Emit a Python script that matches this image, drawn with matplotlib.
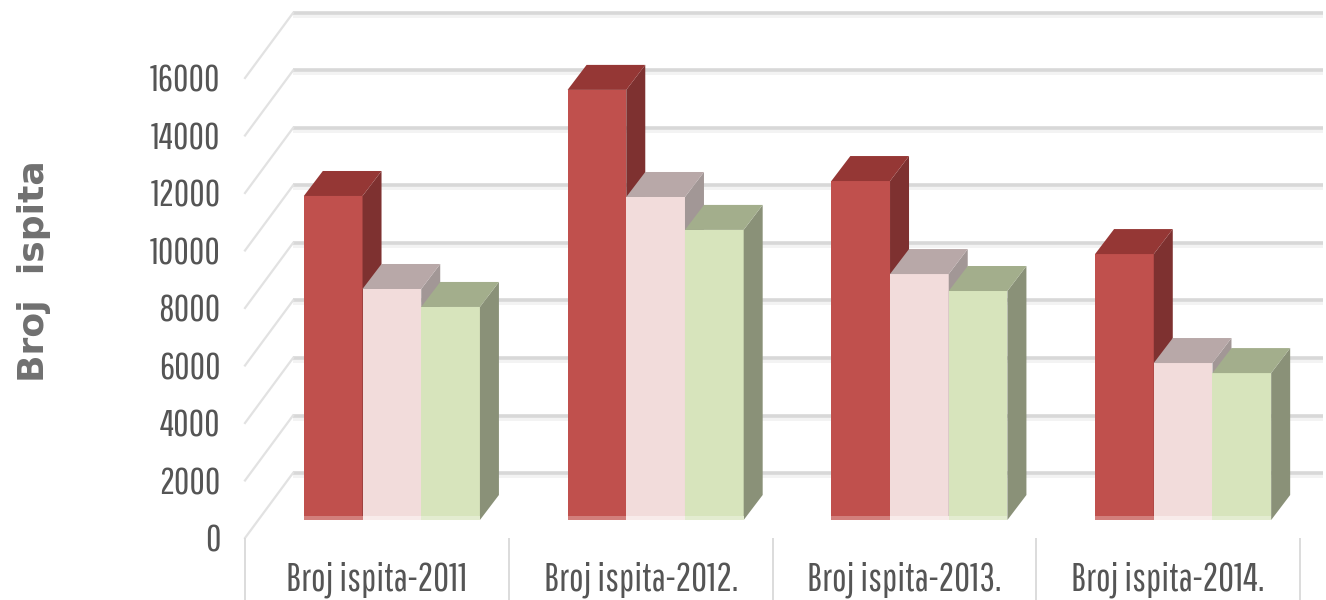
import numpy as np
import matplotlib
matplotlib.use('Agg')
import matplotlib.pyplot as plt
from matplotlib.patches import Polygon

categories = ['Broj ispita-2011', 'Broj ispita-2012.', 'Broj ispita-2013.', 'Broj ispita-2014.']
red_vals = [11270, 14960, 11790, 9250]
pink_vals = [8035, 11235, 8555, 5460]
green_vals = [7410, 10090, 7965, 5110]
yticks = [0, 2000, 4000, 6000, 8000, 10000, 12000, 14000, 16000]

# front, side, top colours per series
series = [
    (red_vals, '#C0504D', '#7E3130', '#953735', '#D27F7C'),
    (pink_vals, '#F2DCDB', '#A29796', '#B8A8A8', '#F8EBEA'),
    (green_vals, '#D7E4BC', '#8A9178', '#A3AE8C', '#E3ECD0'),
]

narrow = ['Pathway Gothic One', 'Liberation Sans', 'DejaVu Sans']

W, H = 1326, 600
fig = plt.figure(figsize=(W / 100, H / 100), dpi=100)
ax = fig.add_axes([245 / W, 1 - 538 / H, 1055 / W, 460 / H])
ax.set_xlim(-0.5, 3.5)
ax.set_ylim(0, 16000)
for s in ax.spines.values():
    s.set_visible(False)

# one px in data units
px_x = 4 / 1055
px_y = 16000 / 460

# back wall grid and the diagonals on the side wall
back_dx = 48 * px_x
back_dy = 65 * px_y
for v in yticks:
    gx = [-0.5 + back_dx, 3.5 + 23 * px_x]
    # soft band under each grid line, the source is a blurry upscale
    ax.plot(gx, [v + back_dy - 2 * px_y] * 2, color='#F3F3F3', lw=4.3, clip_on=False,
            zorder=1, solid_capstyle='butt')
    ax.plot(gx, [v + back_dy, v + back_dy], color='#D8D8D8', lw=2.6, clip_on=False,
            zorder=1, solid_capstyle='butt')
    ax.plot([-0.5, -0.5 + back_dx], [v, v + back_dy],
            color='#E2E2E2', lw=1.6, clip_on=False, zorder=1)

# category separators
ax.vlines(np.arange(-0.5, 4, 1), -62 * px_y, 0, color='#D9D9D9', lw=1.3, clip_on=False, zorder=1)

# bars
base = 18 * px_y
bw = 58.7 * px_x
dx = 19 * px_x
dy = 25 * px_y
shift = 15 * px_x
for i, (vals, front, side, top, light) in enumerate(series):
    xs = np.arange(len(categories)) + shift + (i - 1) * bw
    ax.bar(xs, vals, width=bw, bottom=base, color=front, linewidth=0, zorder=3, clip_on=False)
    # lighter strip along the foot of the bar
    ax.bar(xs, 4 * px_y, width=bw, bottom=base, color=light, linewidth=0, zorder=4)
    for x, v in zip(xs, vals):
        l, r = x - bw / 2, x + bw / 2
        t = base + v
        ax.add_patch(Polygon([(r, base), (r + dx, base + dy), (r + dx, t + dy), (r, t)],
                             facecolor=side, edgecolor='none', zorder=3, clip_on=False))
        ax.add_patch(Polygon([(l, t), (r, t), (r + dx, t + dy), (l + dx, t + dy)],
                             facecolor=top, edgecolor='none', zorder=3, clip_on=False))

ax.set_xticks(range(len(categories)))
ax.set_xticklabels(categories)
ax.set_yticks(yticks)
ax.tick_params(axis='both', length=0, labelcolor='#555555')
ax.tick_params(axis='y', pad=17.5, labelsize=27)
ax.tick_params(axis='x', pad=17, labelsize=28)
for lab in ax.get_xticklabels() + ax.get_yticklabels():
    lab.set_family(narrow)

ax.set_ylabel('Broj  ispita', fontsize=26, fontweight='bold', color='#707070', family='DejaVu Sans')
ax.yaxis.set_label_coords(-194 / 1055, (538 - 271) / 460)

fig.savefig('out.png', dpi=100)
